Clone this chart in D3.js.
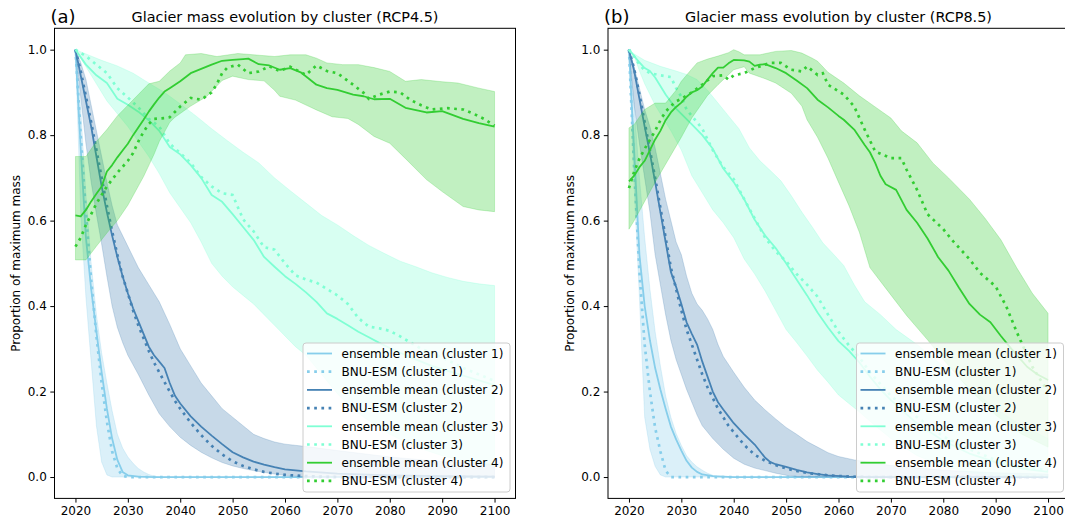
<!DOCTYPE html>
<html><head><meta charset="utf-8">
<script src="https://cdn.jsdelivr.net/npm/d3@7"></script>
<style>
body{margin:0;background:#fff;}
svg{display:block;font-family:"DejaVu Sans",sans-serif;}
</style></head>
<body><svg id="chart" width="1065" height="522"></svg>
<script>
// ---------------- DATA ----------------
const xTicks = [2020,2030,2040,2050,2060,2070,2080,2090,2100];
const yTicks = [0.0,0.2,0.4,0.6,0.8,1.0];
const clusterNames = ["cluster 1","cluster 2","cluster 3","cluster 4"];
const clusterColors = ["#87ceeb","#4682b4","#7fffd4","#32cd32"];
const panelTitles = ["Glacier mass evolution by cluster (RCP4.5)","Glacier mass evolution by cluster (RCP8.5)"];
const panelLetters = ["(a)","(b)"];
const yLabel = "Proportion of maximum mass";

// ---- RCP4.5 ----
const a_c1_mean = [[2020,1.0],[2021,0.77],[2022,0.56],[2023,0.44],[2024,0.34],[2025,0.245],[2026,0.16],[2027,0.09],[2028,0.04],[2029,0.012],[2030,0.004],[2032,0.001],[2035,0],[2100,0]];
const a_c1_bnu  = [[2020,1.0],[2021,0.8],[2022,0.62],[2023,0.46],[2024,0.33],[2025,0.22],[2026,0.13],[2027,0.06],[2028,0.02],[2029,0.003],[2030,0],[2100,0]];
const a_c1_up   = [[2020,1.0],[2021,0.86],[2022,0.66],[2023,0.5],[2024,0.38],[2025,0.29],[2026,0.22],[2027,0.155],[2028,0.1],[2029,0.068],[2030,0.047],[2031,0.032],[2032,0.02],[2033,0.012],[2034,0.006],[2035,0.002],[2036,0],[2100,0]];
const a_c1_lo   = [[2020,1.0],[2021,0.62],[2022,0.42],[2023,0.27],[2024,0.12],[2025,0.035],[2026,0.005],[2027,0],[2100,0]];

const a_c2_mean = [[2020,1.0],[2021,0.94],[2022,0.88],[2023,0.82],[2024,0.75],[2025,0.68],[2026,0.62],[2027,0.565],[2028,0.515],[2029,0.47],[2030,0.43],[2031,0.395],[2032,0.365],[2033,0.335],[2034,0.305],[2035,0.285],[2036,0.27],[2037,0.255],[2038,0.22],[2039,0.19],[2040,0.172],[2042,0.142],[2044,0.118],[2046,0.097],[2048,0.077],[2050,0.058],[2052,0.046],[2054,0.036],[2056,0.029],[2058,0.023],[2060,0.018],[2064,0.013],[2070,0.008],[2080,0.004],[2090,0.002],[2100,0.001]];
const a_c2_bnu  = [[2020,1.0],[2021,0.95],[2022,0.89],[2023,0.83],[2024,0.765],[2025,0.7],[2026,0.635],[2027,0.575],[2028,0.52],[2029,0.47],[2030,0.43],[2031,0.39],[2032,0.355],[2033,0.325],[2034,0.295],[2035,0.268],[2036,0.245],[2037,0.222],[2038,0.2],[2039,0.178],[2040,0.16],[2042,0.127],[2044,0.098],[2046,0.073],[2048,0.053],[2050,0.037],[2052,0.026],[2054,0.018],[2056,0.012],[2058,0.008],[2060,0.005],[2064,0.002],[2070,0],[2100,0]];
const a_c2_up   = [[2020,1.0],[2021,0.97],[2022,0.93],[2023,0.87],[2024,0.81],[2025,0.75],[2026,0.69],[2027,0.635],[2028,0.59],[2029,0.565],[2030,0.54],[2031,0.515],[2032,0.49],[2034,0.45],[2036,0.41],[2038,0.357],[2040,0.3],[2042,0.26],[2044,0.22],[2046,0.19],[2048,0.16],[2050,0.14],[2052,0.12],[2054,0.1],[2056,0.09],[2058,0.082],[2060,0.077],[2065,0.07],[2070,0.062],[2080,0.047],[2090,0.036],[2100,0.03]];
const a_c2_lo   = [[2020,1.0],[2021,0.89],[2022,0.78],[2023,0.69],[2024,0.615],[2025,0.545],[2026,0.47],[2027,0.4],[2028,0.35],[2029,0.315],[2030,0.285],[2032,0.24],[2034,0.192],[2036,0.148],[2038,0.118],[2040,0.093],[2042,0.074],[2044,0.058],[2046,0.045],[2048,0.034],[2050,0.026],[2052,0.02],[2054,0.015],[2056,0.011],[2058,0.007],[2060,0.004],[2063,0.001],[2066,0],[2100,0]];

const a_c3_mean = [[2020,1.0],[2022,0.965],[2024,0.94],[2026,0.922],[2028,0.885],[2030,0.871],[2032,0.855],[2034,0.835],[2036,0.81],[2038,0.772],[2040,0.755],[2042,0.73],[2044,0.7],[2046,0.66],[2048,0.644],[2050,0.615],[2052,0.585],[2054,0.555],[2056,0.515],[2058,0.492],[2060,0.47],[2062,0.452],[2064,0.432],[2066,0.41],[2068,0.383],[2070,0.37],[2072,0.355],[2074,0.34],[2076,0.327],[2078,0.314],[2080,0.302],[2084,0.28],[2088,0.26],[2092,0.245],[2096,0.23],[2100,0.215]];
const a_c3_bnu  = [[2020,1.0],[2022,0.985],[2024,0.965],[2026,0.945],[2028,0.91],[2030,0.888],[2032,0.865],[2034,0.838],[2036,0.82],[2038,0.78],[2040,0.758],[2042,0.735],[2044,0.702],[2046,0.68],[2048,0.664],[2050,0.66],[2052,0.603],[2054,0.575],[2056,0.538],[2058,0.532],[2060,0.5],[2062,0.472],[2064,0.462],[2066,0.455],[2068,0.44],[2070,0.425],[2072,0.405],[2074,0.372],[2076,0.352],[2078,0.348],[2080,0.342],[2082,0.329],[2086,0.3],[2090,0.28],[2094,0.255],[2098,0.235],[2100,0.225]];
const a_c3_up   = [[2020,1.0],[2022,0.99],[2025,0.975],[2028,0.962],[2031,0.945],[2034,0.922],[2037,0.9],[2040,0.873],[2043,0.845],[2046,0.815],[2049,0.787],[2052,0.76],[2055,0.735],[2058,0.7],[2061,0.67],[2064,0.641],[2067,0.612],[2070,0.59],[2073,0.565],[2076,0.542],[2079,0.523],[2082,0.505],[2085,0.492],[2088,0.478],[2091,0.467],[2094,0.458],[2097,0.452],[2100,0.448]];
const a_c3_lo   = [[2020,1.0],[2022,0.96],[2024,0.92],[2026,0.88],[2028,0.85],[2030,0.82],[2032,0.785],[2034,0.75],[2036,0.71],[2038,0.665],[2040,0.63],[2042,0.595],[2044,0.55],[2046,0.5],[2048,0.47],[2050,0.445],[2052,0.425],[2054,0.405],[2056,0.38],[2058,0.355],[2060,0.33],[2062,0.305],[2064,0.285],[2066,0.255],[2068,0.225],[2070,0.195],[2072,0.17],[2075,0.14],[2080,0.1],[2085,0.07],[2090,0.05],[2095,0.035],[2100,0.025]];

const a_c4_mean = [[2020,0.612],[2021,0.61],[2022,0.625],[2023,0.645],[2024,0.663],[2025,0.68],[2026,0.715],[2027,0.73],[2028,0.748],[2029,0.764],[2030,0.78],[2031,0.8],[2032,0.818],[2033,0.836],[2034,0.855],[2035,0.872],[2036,0.888],[2037,0.902],[2038,0.91],[2039,0.918],[2040,0.926],[2042,0.945],[2044,0.955],[2046,0.965],[2048,0.974],[2050,0.976],[2052,0.978],[2053,0.979],[2055,0.966],[2057,0.963],[2059,0.953],[2061,0.957],[2063,0.947],[2066,0.918],[2068,0.91],[2070,0.906],[2073,0.895],[2075,0.891],[2077,0.884],[2080,0.885],[2083,0.864],[2087,0.853],[2090,0.856],[2094,0.838],[2097,0.828],[2100,0.82]];
const a_c4_bnu  = [[2020,0.539],[2021,0.56],[2022,0.59],[2023,0.615],[2024,0.64],[2026,0.68],[2028,0.712],[2030,0.74],[2031,0.758],[2032,0.785],[2033,0.808],[2034,0.826],[2035,0.838],[2037,0.84],[2038,0.842],[2040,0.867],[2042,0.887],[2044,0.883],[2046,0.9],[2047,0.92],[2048,0.945],[2049,0.958],[2051,0.965],[2053,0.945],[2055,0.949],[2057,0.961],[2059,0.95],[2061,0.96],[2064,0.941],[2066,0.963],[2068,0.95],[2070,0.945],[2073,0.918],[2075,0.899],[2076,0.885],[2078,0.895],[2080,0.902],[2082,0.9],[2084,0.882],[2086,0.87],[2088,0.86],[2091,0.863],[2094,0.86],[2096,0.85],[2098,0.838],[2100,0.822]];
const a_c4_up   = [[2020,0.75],[2022,0.75],[2024,0.785],[2026,0.813],[2028,0.845],[2030,0.87],[2032,0.895],[2034,0.92],[2036,0.926],[2038,0.95],[2040,0.969],[2041,0.988],[2044,0.991],[2047,0.984],[2051,0.991],[2055,0.987],[2058,0.984],[2061,0.988],[2064,0.988],[2066,0.98],[2068,0.969],[2071,0.965],[2074,0.965],[2077,0.958],[2080,0.949],[2083,0.926],[2086,0.93],[2090,0.925],[2093,0.922],[2097,0.91],[2100,0.902]];
const a_c4_lo   = [[2020,0.508],[2022,0.508],[2024,0.54],[2026,0.571],[2028,0.6],[2030,0.636],[2033,0.703],[2035,0.755],[2036,0.785],[2038,0.83],[2039,0.842],[2042,0.868],[2045,0.89],[2048,0.928],[2050,0.938],[2053,0.93],[2056,0.927],[2058,0.905],[2059,0.891],[2062,0.882],[2066,0.859],[2069,0.843],[2072,0.839],[2074,0.825],[2077,0.797],[2080,0.781],[2083,0.745],[2087,0.696],[2090,0.668],[2094,0.633],[2097,0.625],[2100,0.621]];

// ---- RCP8.5 ----
const b_c1_mean = [[2020,1.0],[2021,0.76],[2022,0.52],[2023,0.4],[2024,0.32],[2025,0.255],[2026,0.205],[2027,0.16],[2028,0.118],[2029,0.088],[2030,0.062],[2031,0.038],[2032,0.022],[2033,0.012],[2034,0.006],[2036,0.002],[2040,0],[2100,0]];
const b_c1_bnu  = [[2020,1.0],[2021,0.72],[2022,0.48],[2023,0.31],[2024,0.2],[2025,0.115],[2026,0.06],[2027,0.015],[2028,0],[2100,0]];
const b_c1_up   = [[2020,1.0],[2021,0.87],[2022,0.7],[2023,0.56],[2024,0.44],[2025,0.34],[2026,0.26],[2027,0.19],[2028,0.14],[2029,0.102],[2030,0.074],[2031,0.05],[2032,0.035],[2033,0.024],[2034,0.016],[2035,0.009],[2036,0.004],[2037,0],[2100,0]];
const b_c1_lo   = [[2020,1.0],[2021,0.68],[2022,0.42],[2023,0.14],[2024,0.065],[2025,0.025],[2026,0.005],[2027,0],[2100,0]];

const b_c2_mean = [[2020,1.0],[2021,0.95],[2022,0.885],[2023,0.82],[2024,0.758],[2025,0.69],[2026,0.62],[2027,0.55],[2028,0.48],[2029,0.445],[2030,0.405],[2031,0.362],[2032,0.335],[2033,0.31],[2034,0.27],[2035,0.235],[2036,0.2],[2037,0.175],[2038,0.158],[2039,0.142],[2040,0.126],[2042,0.1],[2044,0.076],[2046,0.045],[2047,0.035],[2048,0.03],[2050,0.024],[2052,0.017],[2054,0.011],[2056,0.007],[2058,0.004],[2062,0.001],[2066,0],[2100,0]];
const b_c2_bnu  = [[2020,1.0],[2021,0.955],[2022,0.895],[2023,0.83],[2024,0.765],[2025,0.7],[2026,0.63],[2027,0.56],[2028,0.49],[2029,0.44],[2030,0.39],[2031,0.345],[2032,0.31],[2033,0.275],[2034,0.24],[2035,0.21],[2036,0.185],[2037,0.16],[2038,0.14],[2039,0.12],[2040,0.105],[2042,0.075],[2044,0.052],[2046,0.038],[2048,0.028],[2050,0.02],[2052,0.014],[2055,0.008],[2058,0.004],[2062,0.001],[2066,0],[2100,0]];
const b_c2_up   = [[2020,1.0],[2021,0.96],[2022,0.91],[2023,0.86],[2024,0.82],[2025,0.77],[2026,0.71],[2027,0.65],[2028,0.6],[2029,0.55],[2030,0.52],[2031,0.47],[2032,0.43],[2033,0.405],[2034,0.39],[2035,0.37],[2036,0.345],[2037,0.31],[2038,0.282],[2040,0.245],[2042,0.21],[2044,0.18],[2046,0.157],[2048,0.136],[2050,0.116],[2052,0.1],[2054,0.083],[2056,0.07],[2058,0.057],[2060,0.048],[2063,0.04],[2070,0.027],[2080,0.016],[2090,0.01],[2100,0.007]];
const b_c2_lo   = [[2020,1.0],[2021,0.87],[2022,0.78],[2023,0.7],[2024,0.62],[2025,0.52],[2026,0.45],[2027,0.38],[2028,0.32],[2029,0.275],[2030,0.24],[2031,0.205],[2032,0.175],[2033,0.145],[2034,0.12],[2036,0.09],[2038,0.065],[2040,0.044],[2042,0.03],[2044,0.021],[2046,0.015],[2048,0.009],[2050,0.004],[2052,0.001],[2054,0],[2100,0]];

const b_c3_mean = [[2020,1.0],[2021,0.985],[2022,0.97],[2023,0.957],[2024,0.95],[2025,0.935],[2026,0.915],[2027,0.895],[2028,0.878],[2029,0.862],[2030,0.85],[2032,0.825],[2034,0.8],[2036,0.768],[2038,0.722],[2040,0.69],[2042,0.65],[2044,0.602],[2046,0.565],[2048,0.536],[2050,0.5],[2052,0.462],[2054,0.425],[2056,0.385],[2058,0.35],[2060,0.318],[2062,0.295],[2064,0.268],[2066,0.235],[2068,0.205],[2070,0.18],[2075,0.125],[2080,0.085],[2085,0.055],[2090,0.035],[2095,0.02],[2100,0.012]];
const b_c3_bnu  = [[2020,1.0],[2021,0.984],[2022,0.965],[2023,0.952],[2024,0.945],[2026,0.94],[2028,0.936],[2029,0.91],[2030,0.89],[2031,0.86],[2032,0.845],[2034,0.815],[2036,0.765],[2038,0.725],[2040,0.697],[2042,0.65],[2044,0.605],[2046,0.56],[2048,0.528],[2050,0.505],[2052,0.475],[2054,0.45],[2056,0.422],[2058,0.38],[2060,0.34],[2062,0.308],[2064,0.28],[2066,0.245],[2070,0.19],[2075,0.14],[2080,0.095],[2085,0.065],[2090,0.04],[2095,0.025],[2100,0.015]];
const b_c3_up   = [[2020,1.0],[2021,0.99],[2023,0.975],[2026,0.961],[2029,0.95],[2031,0.942],[2033,0.93],[2035,0.905],[2037,0.875],[2039,0.845],[2041,0.815],[2043,0.77],[2045,0.74],[2047,0.717],[2049,0.693],[2051,0.658],[2053,0.62],[2055,0.585],[2057,0.548],[2059,0.522],[2061,0.495],[2063,0.45],[2065,0.41],[2068,0.38],[2071,0.345],[2075,0.31],[2080,0.26],[2085,0.21],[2090,0.16],[2095,0.12],[2100,0.09]];
const b_c3_lo   = [[2020,1.0],[2021,0.985],[2022,0.95],[2023,0.92],[2024,0.895],[2025,0.87],[2026,0.85],[2027,0.83],[2028,0.81],[2030,0.765],[2032,0.705],[2034,0.665],[2036,0.625],[2038,0.595],[2040,0.56],[2042,0.51],[2044,0.475],[2046,0.435],[2048,0.39],[2050,0.345],[2052,0.315],[2054,0.283],[2056,0.25],[2058,0.222],[2060,0.192],[2062,0.172],[2064,0.152],[2067,0.12],[2070,0.09],[2075,0.05],[2080,0.025],[2085,0.01],[2090,0.004],[2095,0.001],[2100,0]];

const b_c4_mean = [[2020,0.692],[2021,0.705],[2022,0.725],[2023,0.74],[2024,0.765],[2025,0.79],[2026,0.81],[2027,0.835],[2028,0.853],[2029,0.866],[2030,0.876],[2031,0.89],[2032,0.9],[2033,0.905],[2034,0.914],[2035,0.93],[2036,0.945],[2037,0.958],[2038,0.958],[2039,0.968],[2040,0.976],[2042,0.975],[2043,0.972],[2044,0.962],[2045,0.965],[2046,0.966],[2048,0.957],[2050,0.945],[2052,0.928],[2054,0.91],[2056,0.883],[2058,0.865],[2060,0.845],[2061,0.836],[2063,0.813],[2065,0.777],[2066,0.76],[2067,0.735],[2068,0.705],[2069,0.685],[2071,0.672],[2073,0.625],[2075,0.595],[2077,0.558],[2079,0.515],[2081,0.483],[2083,0.443],[2085,0.405],[2087,0.38],[2089,0.362],[2091,0.33],[2093,0.3],[2096,0.258],[2098,0.24],[2100,0.227]];
const b_c4_bnu  = [[2020,0.676],[2021,0.715],[2022,0.745],[2023,0.768],[2024,0.789],[2025,0.81],[2026,0.835],[2027,0.855],[2028,0.868],[2029,0.879],[2030,0.885],[2032,0.9],[2034,0.918],[2036,0.938],[2038,0.94],[2039,0.93],[2040,0.94],[2042,0.945],[2044,0.957],[2046,0.965],[2047,0.969],[2049,0.969],[2051,0.953],[2053,0.949],[2054,0.961],[2056,0.941],[2057,0.945],[2058,0.918],[2061,0.895],[2063,0.867],[2065,0.813],[2067,0.762],[2070,0.746],[2072,0.746],[2073,0.719],[2075,0.672],[2077,0.615],[2080,0.58],[2082,0.55],[2085,0.51],[2087,0.478],[2090,0.446],[2092,0.4],[2094,0.34],[2097,0.258],[2099,0.219],[2100,0.2]];
const b_c4_up   = [[2020,0.817],[2021,0.825],[2023,0.86],[2025,0.875],[2027,0.875],[2029,0.905],[2030,0.926],[2032,0.955],[2033,0.969],[2035,0.978],[2037,0.985],[2039,0.993],[2040,1.0],[2041,0.995],[2042,0.988],[2045,0.988],[2048,0.996],[2051,0.998],[2053,0.992],[2055,0.98],[2056,0.973],[2058,0.947],[2061,0.922],[2064,0.892],[2067,0.866],[2070,0.84],[2072,0.81],[2075,0.782],[2078,0.735],[2081,0.7],[2085,0.65],[2088,0.605],[2091,0.555],[2094,0.49],[2097,0.43],[2100,0.383]];
const b_c4_lo   = [[2020,0.58],[2021,0.6],[2023,0.645],[2025,0.69],[2027,0.732],[2030,0.795],[2032,0.84],[2035,0.893],[2037,0.918],[2040,0.953],[2042,0.96],[2043,0.945],[2046,0.932],[2048,0.922],[2051,0.898],[2053,0.868],[2054,0.836],[2056,0.795],[2058,0.746],[2060,0.69],[2062,0.635],[2064,0.572],[2066,0.49],[2069,0.442],[2073,0.378],[2077,0.321],[2080,0.275],[2085,0.205],[2090,0.145],[2095,0.1],[2100,0.07]];

const panelData = [
  {mean:[a_c1_mean,a_c2_mean,a_c3_mean,a_c4_mean], bnu:[a_c1_bnu,a_c2_bnu,a_c3_bnu,a_c4_bnu], up:[a_c1_up,a_c2_up,a_c3_up,a_c4_up], lo:[a_c1_lo,a_c2_lo,a_c3_lo,a_c4_lo]},
  {mean:[b_c1_mean,b_c2_mean,b_c3_mean,b_c4_mean], bnu:[b_c1_bnu,b_c2_bnu,b_c3_bnu,b_c4_bnu], up:[b_c1_up,b_c2_up,b_c3_up,b_c4_up], lo:[b_c1_lo,b_c2_lo,b_c3_lo,b_c4_lo]}
];

// ---------------- LAYOUT ----------------
const svg = d3.select("#chart");
const axTop = 28.3, axBottom = 498.4, axW = 461;
const panelLefts = [54.5, 608];
const FONT = "DejaVu Sans, sans-serif";

panelLefts.forEach((left, p) => {
  const d = panelData[p];
  const x = d3.scaleLinear().domain([2016, 2104]).range([left, left + axW]);
  const y = d3.scaleLinear().domain([-0.05, 1.05]).range([axBottom, axTop]);
  const g = svg.append("g");
  const clipId = "clip" + p;
  svg.append("clipPath").attr("id", clipId).append("rect")
    .attr("x", left).attr("y", axTop).attr("width", axW).attr("height", axBottom - axTop);
  const plot = g.append("g").attr("clip-path", `url(#${clipId})`);
  const line = d3.line().x(v => x(v[0])).y(v => y(v[1]));

  for (let c = 0; c < 4; c++) {
    const poly = d.up[c].concat(d.lo[c].slice().reverse());
    plot.append("path").attr("d", line(poly) + "Z")
      .attr("fill", clusterColors[c]).attr("fill-opacity", 0.3)
      .attr("stroke", clusterColors[c]).attr("stroke-opacity", 0.3).attr("stroke-width", 0.8);
    plot.append("path").attr("d", line(d.mean[c])).attr("fill", "none")
      .attr("stroke", clusterColors[c]).attr("stroke-width", 1.8).attr("stroke-linejoin", "round");
    plot.append("path").attr("d", line(d.bnu[c])).attr("fill", "none")
      .attr("stroke", clusterColors[c]).attr("stroke-width", 2.7).attr("stroke-dasharray", "2.7,4.5");
  }

  // axes
  const xAxis = d3.axisBottom(x).tickValues(xTicks).tickFormat(d3.format("d")).tickSize(4.2).tickPadding(3.5);
  const yAxis = d3.axisLeft(y).tickValues(yTicks).tickFormat(d3.format(".1f")).tickSize(4.2).tickPadding(3.5);
  const gx = g.append("g").attr("transform", `translate(0,${axBottom})`).call(xAxis);
  const gy = g.append("g").attr("transform", `translate(${left},0)`).call(yAxis);
  [gx, gy].forEach(ax => {
    ax.select(".domain").remove();
    ax.selectAll("text").attr("font-size", 12).attr("font-family", FONT).attr("fill", "#000");
    ax.selectAll("line").attr("stroke", "#000").attr("stroke-width", 1);
  });
  g.append("rect").attr("x", left).attr("y", axTop).attr("width", axW).attr("height", axBottom - axTop)
    .attr("fill", "none").attr("stroke", "#000").attr("stroke-width", 1);

  // titles
  g.append("text").attr("x", left + axW / 2).attr("y", 21.5).attr("text-anchor", "middle")
    .attr("font-size", 14.4).attr("font-family", FONT).text(panelTitles[p]);
  g.append("text").attr("x", left - 4).attr("y", 22.5).attr("font-size", 18)
    .attr("font-family", FONT).text(panelLetters[p]);
  g.append("text").attr("transform", `translate(${left - 34.5},${(axTop + axBottom) / 2}) rotate(-90)`)
    .attr("text-anchor", "middle").attr("font-size", 12).attr("font-family", FONT).text(yLabel);

  // legend
  const lgX = left + axW - 5.5 - 207, lgY = 343;
  const lg = g.append("g");
  lg.append("rect").attr("x", lgX).attr("y", lgY).attr("width", 207).attr("height", 149)
    .attr("rx", 3).attr("fill", "#fff").attr("fill-opacity", 0.8).attr("stroke", "#cccccc").attr("stroke-width", 1);
  const entries = [];
  clusterNames.forEach((n, c) => {
    entries.push({label: `ensemble mean (${n})`, color: clusterColors[c], dotted: false});
    entries.push({label: `BNU-ESM (${n})`, color: clusterColors[c], dotted: true});
  });
  entries.forEach((e, i) => {
    const cy = lgY + 10.5 + i * 18.2;
    lg.append("line").attr("x1", lgX + 4).attr("x2", lgX + 29).attr("y1", cy).attr("y2", cy)
      .attr("stroke", e.color).attr("stroke-width", e.dotted ? 2.7 : 1.8)
      .attr("stroke-dasharray", e.dotted ? "2.7,4.5" : null);
    lg.append("text").attr("x", lgX + 38.5).attr("y", cy + 4.3).attr("font-size", 12)
      .attr("font-family", FONT).attr("fill", "#000").text(e.label);
  });
});
</script></body></html>
